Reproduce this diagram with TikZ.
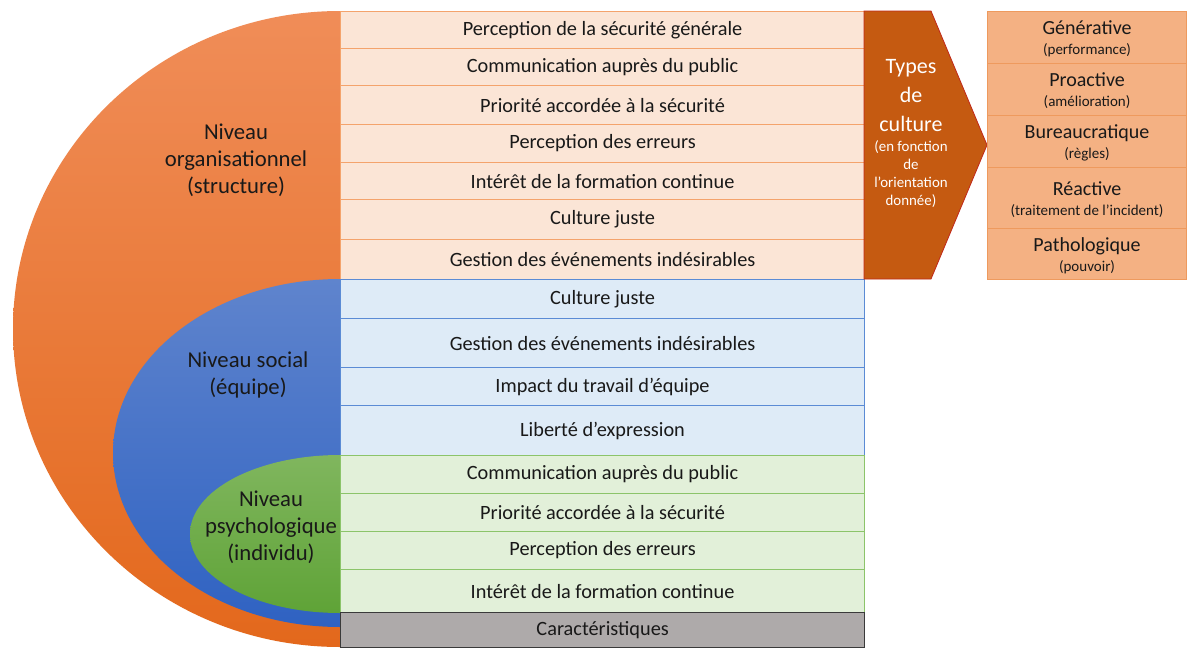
\documentclass[tikz,border=0pt]{standalone}
\usepackage{fontspec}
\setmainfont{Carlito}
\newcommand{\tcell}[2]{\begin{tabular}{@{}c@{}}\fontsize{20}{22}\selectfont #1\\\fontsize{15}{17}\selectfont #2\end{tabular}}
\begin{document}
\begin{tikzpicture}[x=1pt,y=-1pt,
  rowbase/.style={rectangle,minimum width=524pt,anchor=north west,inner sep=0pt,line width=1.1pt,text=black!90,font=\fontsize{20.3}{24}\selectfont},
  rowO/.style={rowbase,fill=orgrow,draw=orgline},
  rowB/.style={rowbase,fill=bluerow,draw=blueline},
  rowG/.style={rowbase,fill=greenrow,draw=greenline},
  rowK/.style={rowbase,fill=greyrow,draw=greyline,line width=1.3pt},
  typebox/.style={rectangle,minimum width=199pt,anchor=north west,inner sep=0pt,fill=typefill,draw=typeline,line width=1.1pt,text=black!90,font=\fontsize{15}{20}\selectfont},
  typetxt/.style={inner sep=0pt,text=black!90,font=\fontsize{15}{20}\selectfont},
  lvl/.style={align=center,text=black!90,font=\fontsize{22.7}{27}\selectfont},
  chevtxt/.style={align=center,text=white,inner sep=0pt}
]
\definecolor{orgrow}{HTML}{FBE5D6}
\definecolor{orgline}{HTML}{F4A36C}
\definecolor{bluerow}{HTML}{DEEBF7}
\definecolor{blueline}{HTML}{5B8BD5}
\definecolor{greenrow}{HTML}{E2F0D9}
\definecolor{greenline}{HTML}{8CC46A}
\definecolor{greyrow}{HTML}{AEAAAA}
\definecolor{greyline}{HTML}{3A3A3A}
\definecolor{typefill}{HTML}{F4B183}
\definecolor{typeline}{HTML}{EE9A5E}
\definecolor{chevfill}{HTML}{C55A11}
\definecolor{chevline}{HTML}{C0281A}
\definecolor{orgtop}{HTML}{F08D58}
\definecolor{orgbot}{HTML}{E3681C}
\definecolor{bluetop}{HTML}{5F84CD}
\definecolor{bluebot}{HTML}{2F62C2}
\definecolor{greentop}{HTML}{80B65E}
\definecolor{greenbot}{HTML}{5FA337}
\useasboundingbox (0,0) rectangle (1189,648);
\fill[white] (0,0) rectangle (1189,648);

% nested half ellipses
\shade[top color=orgtop,bottom color=orgbot] (340,11) arc[start angle=90,end angle=270,x radius=327pt,y radius=318pt] -- cycle;
\shade[top color=bluetop,bottom color=bluebot] (340,279) arc[start angle=90,end angle=270,x radius=227pt,y radius=174pt] -- cycle;
\shade[top color=greentop,bottom color=greenbot] (340,455) arc[start angle=90,end angle=270,x radius=150pt,y radius=79pt] -- cycle;

\node[lvl] (lorg) at (236,160) {Niveau\\organisationnel\\(structure)};
\node[lvl] (lsoc) at (248,375) {Niveau social\\(équipe)};
\node[lvl] (lpsy) at (271,527) {Niveau\\psychologique\\(individu)};

% orange rows
\node[rowO,minimum height=37pt] (o1) at (340,11) {Perception de la sécurité générale};
\node[rowO,minimum height=37pt] (o2) at (340,48) {Communication auprès du public};
\node[rowO,minimum height=39pt] (o3) at (340,85) {Priorité accordée à la sécurité};
\node[rowO,minimum height=38pt] (o4) at (340,124) {Perception des erreurs};
\node[rowO,minimum height=37pt] (o5) at (340,162) {Intérêt de la formation continue};
\node[rowO,minimum height=40pt] (o6) at (340,199) {Culture juste};
\node[rowO,minimum height=40pt] (o7) at (340,239) {Gestion des événements indésirables};
% blue rows
\node[rowB,minimum height=39pt] (b1) at (340,279) {Culture juste};
\node[rowB,minimum height=49pt] (b2) at (340,318) {Gestion des événements indésirables};
\node[rowB,minimum height=38pt] (b3) at (340,367) {Impact du travail d’équipe};
\node[rowB,minimum height=50pt] (b4) at (340,405) {Liberté d’expression};
% green rows
\node[rowG,minimum height=38pt] (g1) at (340,455) {Communication auprès du public};
\node[rowG,minimum height=38pt] (g2) at (340,493) {Priorité accordée à la sécurité};
\node[rowG,minimum height=38pt] (g3) at (340,531) {Perception des erreurs};
\node[rowG,minimum height=43pt] (g4) at (340,569) {Intérêt de la formation continue};
% grey
\node[rowK,minimum height=35pt] (k1) at (340,612) {Caractéristiques};

% chevron
\coordinate (c1) at (864,11);
\coordinate (c2) at (931,11);
\coordinate (c3) at (987,145);
\coordinate (c4) at (931,279);
\coordinate (c5) at (864,279);
\fill[chevfill,draw=chevline,line width=0.8pt] (c1) -- (c2) -- (c3) -- (c4) -- (c5) -- cycle;
\node[chevtxt,font=\fontsize{22}{29}\selectfont] (ctxtA) at (911,96) {Types\\de\\culture};
\node[chevtxt,font=\fontsize{14.9}{18}\selectfont] (ctxtB) at (911,174) {(en fonction\\de\\l’orientation\\donnée)};

% types of culture
\node[typebox,minimum height=52pt] (t1) at (987,11) {};
\node[typebox,minimum height=52pt] (t2) at (987,63) {};
\node[typebox,minimum height=52pt] (t3) at (987,115) {};
\node[typebox,minimum height=61pt] (t4) at (987,167) {};
\node[typebox,minimum height=51pt] (t5) at (987,228) {};
\node[typetxt] (t1x) at ([yshift=-3pt]t1.center) {\tcell{Générative}{(performance)}};
\node[typetxt] (t2x) at ([yshift=-3pt]t2.center) {\tcell{Proactive}{(amélioration)}};
\node[typetxt] (t3x) at ([yshift=-3pt]t3.center) {\tcell{Bureaucratique}{(règles)}};
\node[typetxt] (t4x) at ([yshift=-3pt]t4.center) {\tcell{Réactive}{(traitement de l’incident)}};
\node[typetxt] (t5x) at ([yshift=-3pt]t5.center) {\tcell{Pathologique}{(pouvoir)}};
\end{tikzpicture}
\end{document}
